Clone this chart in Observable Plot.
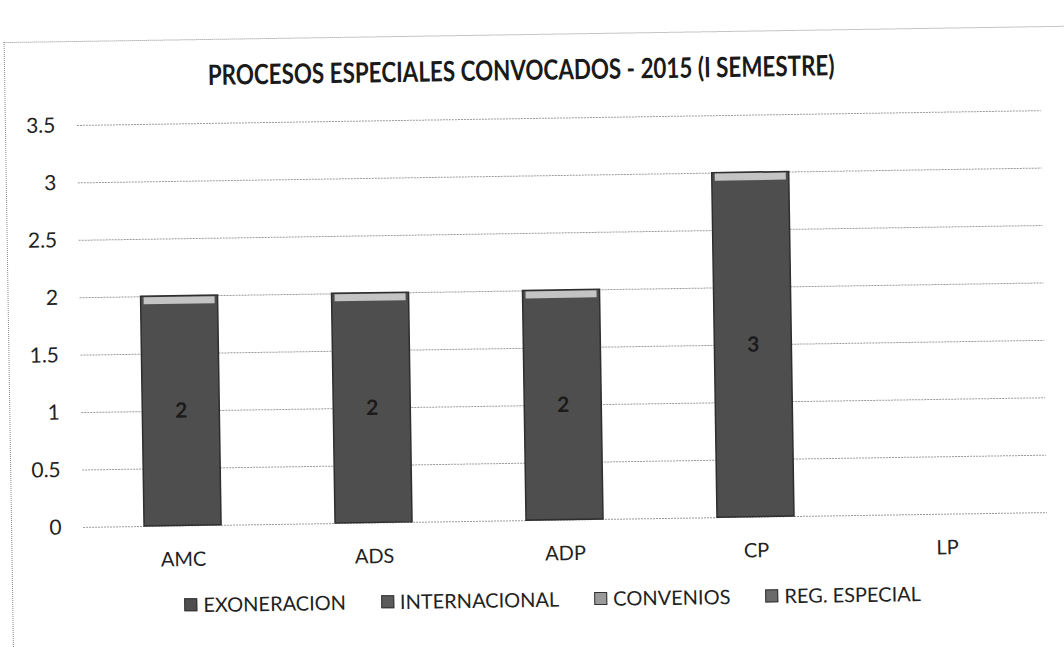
<!DOCTYPE html>
<html>
<head>
<meta charset="utf-8">
<script src="https://cdn.jsdelivr.net/npm/d3@7"></script>
<script src="https://cdn.jsdelivr.net/npm/@observablehq/plot@0.6"></script>
<style>
  html, body { margin: 0; padding: 0; background: #fff; }
  body { width: 1064px; height: 647px; overflow: hidden; font-family: Lato, "Open Sans", sans-serif; }
  #page { position: relative; width: 1064px; height: 647px; transform: rotate(-0.88deg); transform-origin: 532px 323px; }
  #frame { position: absolute; left: 8px; top: 34px; width: 1060px; height: 640px; border-top: 1px dotted #8a8a8a; border-left: 1px dotted #8a8a8a; }
  #title { position: absolute; left: 0; top: 52px; width: 1050px; text-align: center; font-weight: 700; font-size: 28px; color: #1a1a1a; transform: scaleX(0.8); transform-origin: 525px 0; white-space: nowrap; }
  #chart { position: absolute; left: 0; top: 100px; }
  #legend { position: absolute; left: 180px; top: 587px; display: flex; gap: 35px; font-size: 20px; color: #222; }
  .item { display: flex; align-items: center; gap: 6px; }
  .sw { width: 11px; height: 11px; display: inline-block; }
</style>
</head>
<body>
<div id="page">
  <div id="frame"></div>
  <div id="title">PROCESOS ESPECIALES CONVOCADOS - 2015 (I SEMESTRE)</div>
  <div id="chart"></div>
  <div id="legend"></div>
</div>
<script>
const categories = ["AMC", "ADS", "ADP", "CP", "LP"];
const seriesNames = ["EXONERACION", "INTERNACIONAL", "CONVENIOS", "REG. ESPECIAL"];
const exoneracion = [2, 2, 2, 3, 0];
const internacional = [0, 0, 0, 0, 0];
const convenios = [0, 0, 0, 0, 0];
const regEspecial = [0, 0, 0, 0, 0];
const yTicks = [0, 0.5, 1, 1.5, 2, 2.5, 3, 3.5];
const seriesColors = ["#4e4e4e", "#5c5c5c", "#9a9a9a", "#6a6a6a"];

const seriesValues = [exoneracion, internacional, convenios, regEspecial];
const data = [];
seriesNames.forEach((s, i) => {
  categories.forEach((c, j) => data.push({cat: c, series: s, value: seriesValues[i][j]}));
});
const labels = data.filter(d => d.value > 0);

const chart = Plot.plot({
  width: 1064,
  height: 470,
  marginTop: 18,
  marginBottom: 50,
  marginLeft: 80,
  marginRight: 20,
  style: {fontFamily: "Lato, 'Open Sans', sans-serif", fontSize: "20px", color: "#222", background: "transparent"},
  x: {domain: categories, paddingInner: 0.595, paddingOuter: 0.31, label: null, tickSize: 0, tickPadding: 26},
  y: {domain: [0, 3.5], ticks: yTicks, label: null, tickSize: 0, tickPadding: 22, tickFormat: d => String(d)},
  color: {domain: seriesNames, range: seriesColors},
  marks: [
    Plot.gridY(yTicks, {stroke: "#9a9a9a", strokeOpacity: 1, strokeWidth: 1, strokeDasharray: "2,1"}),
    Plot.barY(data, {x: "cat", y: "value", fill: "series", stroke: "#2e2e2e", strokeWidth: 1.5}),
    Plot.barY(labels, {x: "cat", y1: d => d.value - 0.07, y2: d => d.value, fill: "#c4c4c4", insetLeft: 3, insetRight: 3, insetTop: 1}),
    Plot.axisY(yTicks, {tickSize: 0, tickPadding: 22, fontSize: 21, tickFormat: d => String(d), label: null}),
    Plot.text(labels, {x: "cat", y: d => d.value / 2, text: d => String(d.value), fill: "#1a1a1a", fontWeight: 700, fontSize: 21})
  ]
});
document.getElementById("chart").appendChild(chart);

const legend = d3.select("#legend");
seriesNames.forEach((s, i) => {
  const it = legend.append("div").attr("class", "item");
  it.append("span").attr("class", "sw").style("background", seriesColors[i]).style("border", "1px solid #333");
  it.append("span").text(s);
});
</script>
</body>
</html>
